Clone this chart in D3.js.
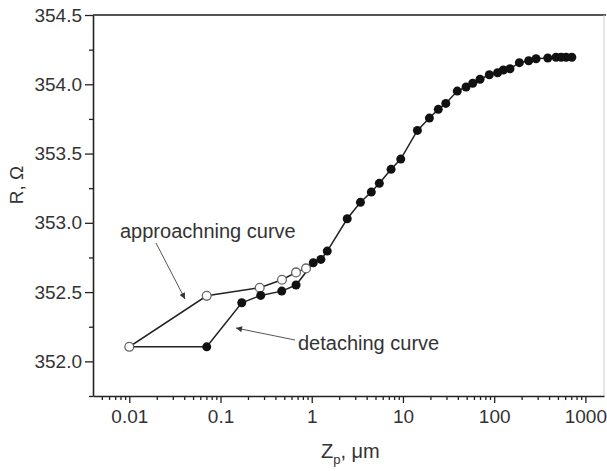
<!DOCTYPE html>
<html>
<head>
<meta charset="utf-8">
<script src="https://cdn.jsdelivr.net/npm/d3@7"></script>
<style>
  html, body { margin: 0; padding: 0; background: #fff; }
  svg { display: block; font-family: "Liberation Sans", Arial, sans-serif; }
</style>
</head>
<body>
<svg id="chart" width="607" height="471"></svg>
<script>
// ---- data ----
const approachZ = [0.866, 0.673, 0.472, 0.269, 0.0706, 0.01];
const approachR = [352.671, 352.642, 352.589, 352.531, 352.473, 352.105];

const detachZ = [0.0706, 0.171, 0.276, 0.469, 0.673, 1.04, 1.26, 1.48, 2.45, 3.42,
  4.50, 5.51, 7.41, 9.46, 14.4, 19.5, 24.4, 29.5, 39.4, 49.2, 58.2, 70.0, 88.5,
  109, 126, 149, 189, 239, 288, 387, 477, 542, 615, 710];
const detachR = [352.105, 352.423, 352.476, 352.507, 352.551, 352.712, 352.736, 352.796,
  353.029, 353.148, 353.222, 353.285, 353.386, 353.460, 353.667, 353.756, 353.819,
  353.862, 353.951, 353.980, 354.007, 354.036, 354.069, 354.083, 354.103, 354.112,
  354.156, 354.170, 354.184, 354.190, 354.195, 354.195, 354.195, 354.195];

const xTickValues = [0.01, 0.1, 1, 10, 100, 1000];
const xTickLabels = ["0.01", "0.1", "1", "10", "100", "1000"];
const yTickValues = [352.0, 352.5, 353.0, 353.5, 354.0, 354.5];
const yTickLabels = ["352.0", "352.5", "353.0", "353.5", "354.0", "354.5"];
const xDomain = [0.004, 1600];
const yDomain = [351.75, 354.5];

const approachLabel = "approachning curve";
const detachLabel = "detaching curve";

// ---- layout ----
const svg = d3.select("#chart");
const L = 93, R = 604, T = 15, B = 396;

const x = d3.scaleLog().domain(xDomain).range([L, R]);
const y = d3.scaleLinear().domain(yDomain).range([B, T]);

// frame: top and right
svg.append("line").attr("x1", L).attr("x2", R + 2).attr("y1", T).attr("y2", T)
  .attr("stroke", "#555").attr("stroke-width", 2);
svg.append("line").attr("x1", R).attr("x2", R).attr("y1", T).attr("y2", B)
  .attr("stroke", "#ccc").attr("stroke-width", 1);

// minor ticks x
const xMinor = [];
for (let e = -3; e <= 3; e++) {
  for (let m = 2; m <= 9; m++) {
    const v = m * Math.pow(10, e);
    if (v > xDomain[0] && v < xDomain[1]) xMinor.push(v);
  }
}
const gxMinor = svg.append("g").attr("transform", `translate(0,${B})`)
  .call(d3.axisBottom(x).tickValues(xMinor).tickSize(4).tickFormat(""));
gxMinor.select(".domain").remove();

const gx = svg.append("g").attr("transform", `translate(0,${B})`)
  .call(d3.axisBottom(x).tickValues(xTickValues).tickSize(7).tickSizeOuter(0)
    .tickPadding(7).tickFormat((d, i) => xTickLabels[i]));

// minor ticks y
const yMinor = [351.75, 352.25, 352.75, 353.25, 353.75, 354.25];
const gyMinor = svg.append("g").attr("transform", `translate(${L},0)`)
  .call(d3.axisLeft(y).tickValues(yMinor).tickSize(4).tickFormat(""));
gyMinor.select(".domain").remove();

const gy = svg.append("g").attr("transform", `translate(${L},0)`)
  .call(d3.axisLeft(y).tickValues(yTickValues).tickSize(8).tickSizeOuter(0)
    .tickPadding(3).tickFormat((d, i) => yTickLabels[i]));

[gx, gy, gxMinor, gyMinor].forEach(g => {
  g.selectAll(".domain").attr("stroke", "#222").attr("stroke-width", 1.6);
  g.selectAll(".tick line").attr("stroke", "#222").attr("stroke-width", 1.3);
  g.selectAll(".tick text").attr("fill", "#333").style("font-size", "19px")
    .style("font-family", "'Liberation Sans', Arial, sans-serif");
});

// axis titles
svg.append("text")
  .attr("transform", "translate(23,185) rotate(-90)")
  .attr("text-anchor", "middle").attr("fill", "#333").style("font-size", "19px")
  .text("R, Ω");

const xt = svg.append("text").attr("x", 321).attr("y", 458)
  .attr("fill", "#333").style("font-size", "20px");
xt.append("tspan").text("Z");
xt.append("tspan").attr("dy", 6).style("font-size", "13px").text("p");
xt.append("tspan").attr("dy", -6).text(", μm");

// data lines
const line = d3.line().x(d => x(d[0])).y(d => y(d[1]));
const approachPts = approachZ.map((z, i) => [z, approachR[i]]);
const detachPts = detachZ.map((z, i) => [z, detachR[i]]);

svg.append("path")
  .datum(approachPts.concat([detachPts[0]]))
  .attr("d", line).attr("fill", "none").attr("stroke", "#222").attr("stroke-width", 1.5);
svg.append("path")
  .datum(detachPts)
  .attr("d", line).attr("fill", "none").attr("stroke", "#222").attr("stroke-width", 1.5);

// markers
svg.append("g").selectAll("circle").data(approachPts).join("circle")
  .attr("cx", d => x(d[0])).attr("cy", d => y(d[1])).attr("r", 4.4)
  .attr("fill", "#fff").attr("stroke", "#666").attr("stroke-width", 1.3);
svg.append("g").selectAll("circle").data(detachPts).join("circle")
  .attr("cx", d => x(d[0])).attr("cy", d => y(d[1])).attr("r", 4.5)
  .attr("fill", "#111");

// annotations
const defs = svg.append("defs");
defs.append("marker").attr("id", "arr").attr("viewBox", "0 0 10 10")
  .attr("refX", 10).attr("refY", 5).attr("markerWidth", 9).attr("markerHeight", 6)
  .attr("markerUnits", "userSpaceOnUse").attr("orient", "auto")
  .append("path").attr("d", "M0,0 L10,5 L0,10 Z").attr("fill", "#333");

svg.append("text").attr("x", 120).attr("y", 238).attr("fill", "#333")
  .style("font-size", "20px").text(approachLabel);
svg.append("line").attr("x1", 156).attr("y1", 243).attr("x2", 185).attr("y2", 299)
  .attr("stroke", "#555").attr("stroke-width", 1).attr("marker-end", "url(#arr)");

svg.append("text").attr("x", 298).attr("y", 350).attr("fill", "#333")
  .style("font-size", "20px").text(detachLabel);
svg.append("line").attr("x1", 295).attr("y1", 340).attr("x2", 236).attr("y2", 328)
  .attr("stroke", "#555").attr("stroke-width", 1).attr("marker-end", "url(#arr)");
</script>
</body>
</html>
